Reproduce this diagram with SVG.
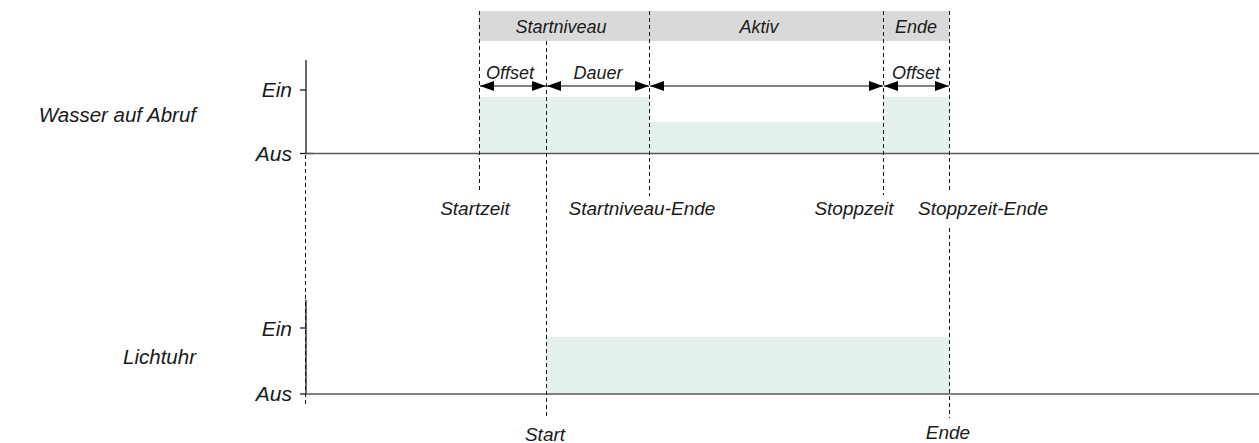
<svg xmlns="http://www.w3.org/2000/svg" width="1259" height="443" viewBox="0 0 1259 443">
<style>
text{font-family:"Liberation Sans",Arial,sans-serif;font-style:italic;fill:#1a1a1a}
.lbl{font-size:20.5px;text-anchor:end}
.lv{font-size:21px;text-anchor:end}
.hd{font-size:18px;text-anchor:middle}
.bt{font-size:19px;text-anchor:middle}
.dash{stroke:#1a1a1a;stroke-width:1;stroke-dasharray:4 3;fill:none}
.axis{stroke:#595959;stroke-width:1.6;fill:none}
.ax{stroke:#1a1a1a;stroke-width:1.3;fill:none}
.fill{fill:#e5f1ec}
.arr{stroke:#595959;stroke-width:1.6;fill:none;marker-start:url(#ah);marker-end:url(#ah)}
</style>
<defs>
<marker id="ah" viewBox="0 0 14 10" refX="14" refY="5" markerWidth="14" markerHeight="10" markerUnits="userSpaceOnUse" orient="auto-start-reverse">
<path d="M0,0 L14,5 L0,10 Z" fill="#000"/>
</marker>
</defs>
<g id="header">
<rect x="479" y="11" width="470" height="30" fill="#d9d9d9"/>
<text class="hd" x="561" y="33">Startniveau</text>
<text class="hd" x="759" y="33">Aktiv</text>
<text class="hd" x="916" y="33">Ende</text>
</g>
<g id="wasser">
<rect class="fill" x="479" y="97" width="170" height="56"/>
<rect class="fill" x="649" y="122" width="234" height="31"/>
<rect class="fill" x="883" y="97" width="66" height="56"/>
<text class="lbl" x="196" y="122">Wasser auf Abruf</text>
<text class="lv" x="292" y="97">Ein</text>
<text class="lv" x="292" y="161">Aus</text>
</g>
<g id="lichtuhr">
<rect class="fill" x="546" y="337" width="403" height="57"/>
<text class="lbl" x="196" y="364">Lichtuhr</text>
<text class="lv" x="292" y="336">Ein</text>
<text class="lv" x="292" y="401">Aus</text>
</g>
<g id="axes">
<line class="ax" x1="306" y1="60" x2="306" y2="154"/>
<line class="ax" x1="306" y1="300" x2="306" y2="394"/>
<line class="ax" x1="300" y1="90" x2="306" y2="90"/>
<line class="ax" x1="300" y1="153.5" x2="313" y2="153.5"/>
<line class="ax" x1="300" y1="328" x2="306" y2="328"/>
<line class="ax" x1="300" y1="394" x2="306" y2="394"/>
<line class="axis" x1="306" y1="153.5" x2="1259" y2="153.5"/>
<line class="axis" x1="306" y1="394" x2="1259" y2="394"/>
</g>
<g id="connectors">
<line class="dash" x1="305.5" y1="155" x2="305.5" y2="405"/>
<line class="dash" x1="479.5" y1="11" x2="479.5" y2="193"/>
<line class="dash" x1="546.5" y1="41" x2="546.5" y2="418"/>
<line class="dash" x1="649.5" y1="11" x2="649.5" y2="196"/>
<line class="dash" x1="883.5" y1="11" x2="883.5" y2="195"/>
<line class="dash" x1="949.5" y1="11" x2="949.5" y2="193"/>
<line class="dash" x1="949.5" y1="228" x2="949.5" y2="418"/>
<line class="arr" x1="480" y1="86" x2="546" y2="86"/>
<line class="arr" x1="547" y1="86" x2="649" y2="86"/>
<line class="arr" x1="650" y1="86" x2="883" y2="86"/>
<line class="arr" x1="884" y1="86" x2="949" y2="86"/>
</g>
<g id="labels">
<text class="hd" x="510" y="79">Offset</text>
<text class="hd" x="598" y="79">Dauer</text>
<text class="hd" x="916" y="79">Offset</text>
<text class="bt" x="475" y="215">Startzeit</text>
<text class="bt" x="642" y="215">Startniveau-Ende</text>
<text class="bt" x="854" y="215">Stoppzeit</text>
<text class="bt" x="983" y="215">Stoppzeit-Ende</text>
<text class="bt" x="545" y="441">Start</text>
<text class="bt" x="948" y="439">Ende</text>
</g>
</svg>
